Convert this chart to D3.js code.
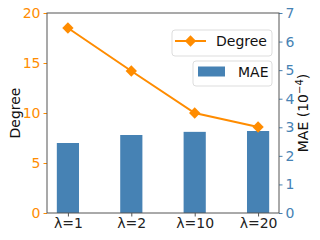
<!DOCTYPE html>
<html>
<head>
<meta charset="utf-8">
<script src="https://d3js.org/d3.v7.min.js"></script>
<style>
  body { margin: 0; background: #fff; }
  text { font-family: "DejaVu Sans", sans-serif; }
</style>
</head>
<body>
<div id="chart"></div>
<script>
var categories = ["λ=1", "λ=2", "λ=10", "λ=20"];
var degree = [18.5, 14.2, 10.0, 8.6];
var mae = [2.45, 2.73, 2.84, 2.87];
var degreeTicks = [0, 5, 10, 15, 20];
var maeTicks = [0, 1, 2, 3, 4, 5, 6, 7];

var orange = "#ff8c00", blue = "#4682b4";
var W = 320, H = 240;
var plotL = 47, plotR = 279, plotT = 13, plotB = 213;

var svg = d3.select("#chart").append("svg")
  .attr("width", W).attr("height", H);

var x = d3.scaleLinear().domain([-0.33, 3.33]).range([plotL, plotR]);
var yL = d3.scaleLinear().domain([0, 20]).range([plotB, plotT]);
var yR = d3.scaleLinear().domain([0, 7]).range([plotB, plotT]);
var barW = 0.35;

// bars
svg.selectAll("rect.bar").data(mae).enter().append("rect")
  .attr("class", "bar")
  .attr("x", function(d, i) { return x(i - barW / 2); })
  .attr("width", x(barW) - x(0))
  .attr("y", function(d) { return yR(d); })
  .attr("height", function(d) { return yR(0) - yR(d); })
  .attr("fill", blue);

// degree line
svg.append("path")
  .datum(degree)
  .attr("fill", "none")
  .attr("stroke", orange)
  .attr("stroke-width", 2)
  .attr("d", d3.line()
    .x(function(d, i) { return x(i); })
    .y(function(d) { return yL(d); }));

var diamond = d3.symbol().type(d3.symbolSquare).size(64);
svg.selectAll("path.pt").data(degree).enter().append("path")
  .attr("class", "pt")
  .attr("d", diamond)
  .attr("fill", orange)
  .attr("transform", function(d, i) {
    return "translate(" + x(i) + "," + yL(d) + ") rotate(45)";
  });

// axes
var axL = svg.append("g")
  .attr("transform", "translate(" + plotL + ",0)")
  .call(d3.axisLeft(yL).tickValues(degreeTicks).tickSize(3.5).tickPadding(3));
axL.selectAll("text").attr("fill", orange).style("font-size", "14px");
axL.selectAll("line").attr("stroke", orange);
axL.select(".domain").remove();

var axR = svg.append("g")
  .attr("transform", "translate(" + plotR + ",0)")
  .call(d3.axisRight(yR).tickValues(maeTicks).tickFormat(d3.format("d"))
    .tickSize(3.5).tickPadding(3));
axR.selectAll("text").attr("fill", blue).style("font-size", "14px");
axR.selectAll("line").attr("stroke", blue);
axR.select(".domain").remove();

var axB = svg.append("g")
  .attr("transform", "translate(0," + plotB + ")")
  .call(d3.axisBottom(x).tickValues([0, 1, 2, 3])
    .tickFormat(function(d) { return categories[d]; })
    .tickSize(3.5).tickPadding(2));
axB.selectAll("text").attr("fill", "#222").style("font-size", "14px");
axB.selectAll("line").attr("stroke", "#555");
axB.select(".domain").remove();

// frame
svg.append("rect")
  .attr("x", plotL).attr("y", plotT)
  .attr("width", plotR - plotL).attr("height", plotB - plotT)
  .attr("fill", "none").attr("stroke", "#555").attr("stroke-width", 1);

// axis titles
svg.append("text")
  .attr("transform", "translate(20," + (plotT + plotB) / 2 + ") rotate(-90)")
  .attr("text-anchor", "middle")
  .style("font-size", "14px").attr("fill", "#111")
  .text("Degree");

var t = svg.append("text")
  .attr("transform", "translate(308," + (plotT + plotB) / 2 + ") rotate(-90)")
  .attr("text-anchor", "middle")
  .style("font-size", "14px").attr("fill", "#111");
t.append("tspan").text("MAE (10");
t.append("tspan").attr("baseline-shift", "super").style("font-size", "10px").text("−4");
t.append("tspan").text(")");

// legends
var lg1 = svg.append("g");
lg1.append("rect").attr("x", 172).attr("y", 30).attr("width", 100).attr("height", 26)
  .attr("rx", 3).attr("fill", "#fff").attr("fill-opacity", 0.8)
  .attr("stroke", "#ddd");
lg1.append("line").attr("x1", 175).attr("x2", 206).attr("y1", 41).attr("y2", 41)
  .attr("stroke", orange).attr("stroke-width", 2);
lg1.append("path").attr("d", diamond).attr("fill", orange)
  .attr("transform", "translate(190.5,41) rotate(45)");
lg1.append("text").attr("x", 216).attr("y", 46).style("font-size", "14px")
  .attr("fill", "#111").text("Degree");

var lg2 = svg.append("g");
lg2.append("rect").attr("x", 193).attr("y", 61).attr("width", 79).attr("height", 25)
  .attr("rx", 3).attr("fill", "#fff").attr("fill-opacity", 0.8)
  .attr("stroke", "#ddd");
lg2.append("rect").attr("x", 198).attr("y", 66.5).attr("width", 27).attr("height", 10)
  .attr("fill", blue);
lg2.append("text").attr("x", 238).attr("y", 76.5).style("font-size", "14px")
  .attr("fill", "#111").text("MAE");
</script>
</body>
</html>
